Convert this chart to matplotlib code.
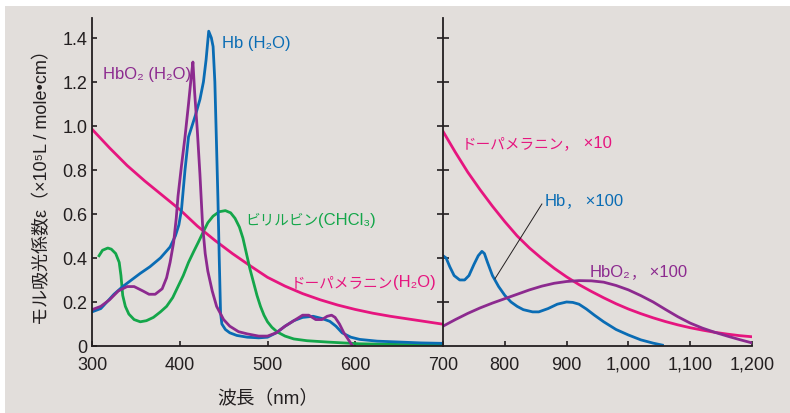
import matplotlib.pyplot as plt
from matplotlib.patches import Rectangle
from matplotlib.transforms import ScaledTranslation

plt.rcParams['font.family'] = ['Liberation Sans', 'Noto Sans CJK JP', 'DejaVu Sans']

# ---- データ (左: 300-700 nm, 右: 700-1200 nm) ----
hb_l_x = [300, 310, 317, 325, 335, 345, 355, 366, 378, 389, 395, 399, 402, 406, 410,
          414, 418, 423, 427, 430, 433, 436, 438, 440, 442, 443.5, 445, 446.5, 448, 452,
          457, 465, 477, 490, 500, 510, 520, 530, 540, 552, 562, 571, 578, 585, 595,
          605, 625, 650, 675, 700]
hb_l_y = [0.155, 0.17, 0.20, 0.235, 0.27, 0.30, 0.33, 0.36, 0.40, 0.45, 0.50, 0.55, 0.62, 0.80, 0.95,
          1.0, 1.05, 1.12, 1.20, 1.30, 1.43, 1.40, 1.36, 1.20, 0.90, 0.67, 0.40, 0.15, 0.10, 0.075,
          0.06, 0.048, 0.04, 0.037, 0.04, 0.06, 0.09, 0.115, 0.13, 0.135, 0.125, 0.112, 0.09, 0.06, 0.04,
          0.03, 0.022, 0.018, 0.014, 0.012]

hbo2_l_x = [300, 310, 320, 330, 340, 348, 358, 365, 372, 380, 385, 389, 393, 396, 398,
            402, 406, 410, 413, 415, 417, 420, 423, 426, 429, 432, 437, 442, 450, 457,
            467, 477, 490, 500, 510, 520, 530, 540, 547, 555, 562, 568, 573, 577, 582,
            587, 592, 597]
hbo2_l_y = [0.165, 0.18, 0.21, 0.25, 0.27, 0.27, 0.25, 0.235, 0.235, 0.26, 0.31, 0.38, 0.47, 0.58, 0.68,
            0.82, 0.95, 1.10, 1.22, 1.29, 1.15, 0.98, 0.78, 0.55, 0.42, 0.34, 0.25, 0.18, 0.12, 0.09,
            0.065, 0.055, 0.045, 0.045, 0.06, 0.09, 0.115, 0.14, 0.14, 0.12, 0.12, 0.135, 0.14, 0.13, 0.10,
            0.06, 0.03, 0.0]

bili_x = [308, 312, 318, 322, 327, 331, 333, 335, 338, 342, 348, 355, 362, 370, 378,
          385, 392, 398, 404, 410, 416, 421, 427, 432, 438, 445, 452, 458, 463, 468,
          472, 476, 480, 484, 488, 492, 496, 500, 505, 511, 520, 530, 545, 568, 605,
          650, 700]
bili_y = [0.41, 0.435, 0.445, 0.44, 0.42, 0.38, 0.32, 0.23, 0.18, 0.145, 0.12, 0.11, 0.115, 0.13, 0.155,
          0.18, 0.22, 0.27, 0.32, 0.38, 0.43, 0.47, 0.52, 0.56, 0.59, 0.61, 0.615, 0.605, 0.58, 0.54,
          0.49, 0.42, 0.35, 0.29, 0.23, 0.18, 0.14, 0.11, 0.085, 0.064, 0.045, 0.032, 0.024, 0.018, 0.01,
          0.007, 0.005]

mel_l_x = [300, 320, 340, 360, 380, 400, 420, 440, 460, 480, 500, 520, 540, 560, 580,
           600, 620, 640, 660, 680, 700]
mel_l_y = [0.985, 0.90, 0.82, 0.75, 0.685, 0.62, 0.545, 0.48, 0.42, 0.365, 0.312, 0.272, 0.238, 0.21, 0.186,
           0.166, 0.149, 0.135, 0.123, 0.111, 0.099]

mel_r_x = [700, 720, 740, 760, 780, 800, 820, 840, 860, 880, 900, 920, 940, 960, 980,
           1000, 1020, 1040, 1060, 1080, 1100, 1120, 1140, 1160, 1180, 1200]
mel_r_y = [0.975, 0.88, 0.79, 0.71, 0.635, 0.565, 0.50, 0.445, 0.397, 0.353, 0.314, 0.279, 0.248, 0.219, 0.192,
           0.168, 0.147, 0.128, 0.111, 0.096, 0.083, 0.072, 0.062, 0.054, 0.047, 0.042]

hb_r_x = [700, 705, 711, 718, 727, 735, 742, 750, 757, 763, 767, 772, 780, 790, 800,
          810, 820, 830, 845, 855, 870, 885, 900, 910, 920, 932, 945, 960, 980, 1000,
          1020, 1040, 1055]
hb_r_y = [0.41, 0.40, 0.36, 0.32, 0.30, 0.30, 0.32, 0.37, 0.41, 0.43, 0.42, 0.38, 0.32, 0.27, 0.23,
          0.20, 0.18, 0.165, 0.155, 0.155, 0.17, 0.19, 0.20, 0.198, 0.19, 0.168, 0.14, 0.11, 0.075, 0.05,
          0.028, 0.013, 0.004]

hbo2_r_x = [700, 720, 740, 760, 780, 800, 820, 840, 860, 880, 900, 920, 940, 960, 980,
            1000, 1020, 1040, 1060, 1080, 1100, 1120, 1140, 1160, 1180, 1200]
hbo2_r_y = [0.09, 0.12, 0.148, 0.173, 0.195, 0.215, 0.235, 0.255, 0.272, 0.285, 0.293, 0.297, 0.296, 0.29, 0.275,
            0.255, 0.229, 0.20, 0.166, 0.133, 0.104, 0.081, 0.062, 0.045, 0.029, 0.014]

# 引き出し線 (Hb ×100)
note_x = [784, 860]
note_y = [0.305, 0.645]

left_ticks = [300, 400, 500, 600, 700]
right_ticks = [800, 900, 1000, 1100, 1200]
right_labels = ['800', '900', '1,000', '1,100', '1,200']
y_ticks = [0, 0.2, 0.4, 0.6, 0.8, 1.0, 1.2, 1.4]
y_labels = ['0', '0.2', '0.4', '0.6', '0.8', '1.0', '1.2', '1.4']

BLUE = '#0a6cb4'
PURPLE = '#8c2a8f'
GREEN = '#14a64a'
PINK = '#e6157f'
INK = '#231f20'
BG = '#e2dedb'

fig = plt.figure(figsize=(7.9, 4.14), dpi=100, facecolor='white')
fig.patches.append(Rectangle((5 / 790, 0), 1, 407 / 414, transform=fig.transFigure,
                             facecolor=BG, edgecolor='none', zorder=-10))

ax1 = fig.add_axes([92 / 790, 67 / 414, 351 / 790, 328 / 414])
ax2 = fig.add_axes([443 / 790, 67 / 414, 309 / 790, 328 / 414])

for ax in (ax1, ax2):
    ax.set_facecolor('none')
    ax.spines['top'].set_visible(False)
    ax.spines['right'].set_visible(False)
    for s in ('left', 'bottom'):
        ax.spines[s].set_color(INK)
        ax.spines[s].set_linewidth(1.3)
    ax.set_ylim(0, 1.49)

lw = 2.0
ax1.plot(mel_l_x, mel_l_y, color=PINK, lw=lw)
ax1.plot(bili_x, bili_y, color=GREEN, lw=lw)
ax1.plot(hb_l_x, hb_l_y, color=BLUE, lw=lw)
ax1.plot(hbo2_l_x, hbo2_l_y, color=PURPLE, lw=lw)

ax2.plot(mel_r_x, mel_r_y, color=PINK, lw=lw)
ax2.plot(hb_r_x, hb_r_y, color=BLUE, lw=lw)
ax2.plot(hbo2_r_x, hbo2_r_y, color=PURPLE, lw=lw)
ax2.plot(note_x, note_y, color=INK, lw=0.7)

ax1.set_xlim(300, 700)
ax1.set_xticks(left_ticks)
ax1.set_yticks(y_ticks)
ax1.set_yticklabels(y_labels)
ax1.tick_params(direction='in', length=3.6, width=1.2, color=INK, labelcolor=INK, labelsize=13)
ax1.tick_params(axis='x', pad=7)
ax1.tick_params(axis='y', pad=3.5)

ax2.set_xlim(700, 1200)
ax2.set_xticks(right_ticks)
ax2.set_xticklabels(right_labels)
ax2.set_yticks(y_ticks[1:])
ax2.tick_params(axis='x', direction='in', length=3.6, width=1.2, color=INK,
                labelcolor=INK, labelsize=13, pad=7)
ax2.tick_params(axis='y', direction='inout', length=8, width=1.2, color=INK, labelleft=False)

ax1.set_xlabel('波長（nm）', fontsize=13.5, color=INK, labelpad=11)
ax1.set_ylabel('モル吸光係数ε（×10⁵L / mole•cm）', fontsize=13, color=INK, labelpad=8)

renderer = fig.canvas.get_renderer()
JP, LAT = 10.5, 12


def chain(ax, x, y, parts, color):
    # 和文と欧文でサイズが違うので、横に継ぎ足して描く
    dx = 0.0
    for s, size in parts:
        tr = ax.transData + ScaledTranslation(dx / fig.dpi, 0, fig.dpi_scale_trans)
        t = ax.text(x, y, s, fontsize=size, color=color, va='baseline', transform=tr)
        dx += t.get_window_extent(renderer).width


chain(ax1, 448, 1.359, [('Hb (H₂O)', LAT)], BLUE)
chain(ax1, 312.5, 1.218, [('HbO₂ (H₂O)', LAT)], PURPLE)
chain(ax1, 474.4, 0.555, [('ビリルビン', JP), ('(CHCl₃)', LAT)], GREEN)
chain(ax1, 526.8, 0.273, [('ドーパメラニン', JP), ('(H₂O)', LAT)], PINK)
chain(ax2, 730.7, 0.905, [('ドーパメラニン，', JP), (' ×10', LAT)], PINK)
chain(ax2, 865, 0.641, [('Hb', LAT), ('，', JP), (' ×100', LAT)], BLUE)
chain(ax2, 938, 0.317, [('HbO₂', LAT), ('，', JP), (' ×100', LAT)], PURPLE)

fig.savefig('out.png', dpi=100, facecolor=fig.get_facecolor())
